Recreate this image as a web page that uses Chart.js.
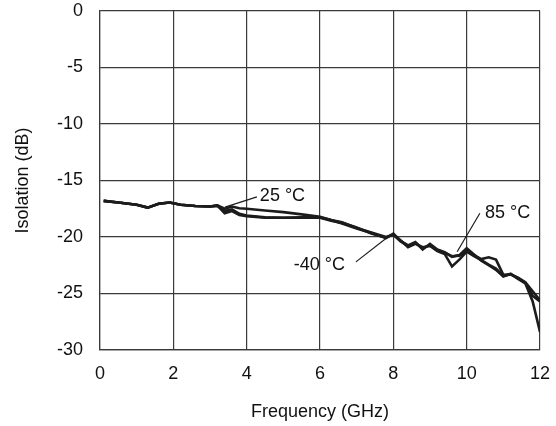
<!DOCTYPE html>
<html>
<head>
<meta charset="utf-8">
<script src="https://cdn.jsdelivr.net/npm/chart.js@4.4.1/dist/chart.umd.min.js"></script>
<style>
    html, body { margin: 0; padding: 0; background: #ffffff; }
    #wrap { width: 556px; height: 426px; }
</style>
</head>
<body>
<div id="wrap"><canvas id="isoChart" width="556" height="426"></canvas></div>
<script>

// ======================================
// Data
// ======================================

const freqGHz = [
    0.1, 0.5, 1.0, 1.3, 1.6, 1.9, 2.2, 2.6, 3.0, 3.2, 3.4, 3.6, 3.8,
    4.0, 4.5, 5.0, 5.5, 6.0, 6.3, 6.6, 7.0, 7.4, 7.8, 8.0, 8.2, 8.4,
    8.6, 8.8, 9.0, 9.2, 9.4, 9.6, 9.8, 10.0, 10.2, 10.4, 10.6, 10.8,
    11.0, 11.2, 11.4, 11.6, 11.8, 12.0
];

const iso25 = [
    -16.8, -16.95, -17.15, -17.4, -17.05, -16.95, -17.15, -17.25, -17.3, -17.2, -17.5, -17.3, -17.45,
    -17.5, -17.65, -17.8, -18.0, -18.2, -18.5, -18.7, -19.2, -19.6, -20.0, -19.8, -20.4, -20.8,
    -20.5, -21.0, -20.7, -21.2, -21.4, -21.7, -21.65, -21.25, -21.6, -21.95, -21.8, -22.0,
    -23.35, -23.3, -23.6, -24.0, -24.8, -25.6
];

const isoMinus40 = [
    -16.8, -16.95, -17.15, -17.4, -17.05, -16.95, -17.15, -17.25, -17.3, -17.2, -17.9, -17.7, -18.05,
    -18.15, -18.3, -18.3, -18.3, -18.3, -18.55, -18.75, -19.15, -19.7, -20.05, -19.75, -20.3, -20.9,
    -20.6, -20.9, -20.8, -21.25, -21.5, -22.6, -22.0, -21.3, -21.7, -22.05, -22.45, -22.8,
    -23.45, -23.3, -23.65, -24.05, -25.2, -25.7
];

const iso85 = [
    -16.8, -16.95, -17.15, -17.4, -17.05, -16.95, -17.15, -17.25, -17.3, -17.25, -17.7, -17.55, -17.95,
    -18.1, -18.25, -18.3, -18.25, -18.25, -18.5, -18.8, -19.25, -19.65, -20.1, -19.7, -20.35, -20.75,
    -20.45, -21.1, -20.6, -21.1, -21.35, -21.75, -21.6, -21.0, -21.55, -22.1, -22.5, -22.9,
    -23.5, -23.25, -23.7, -24.1, -25.7, -28.4
];

const xTicks = [0, 2, 4, 6, 8, 10, 12];
const yTicks = [0, -5, -10, -15, -20, -25, -30];

// label text, label anchor, leader start, leader end (data units)
const callouts = [
    { text: "25 °C", align: "left", at: [4.36, -16.35], from: [4.28, -16.45], to: [3.41, -17.35] },
    { text: "-40 °C", align: "right", at: [6.68, -22.5], from: [6.98, -22.2], to: [7.85, -20.0] },
    { text: "85 °C", align: "left", at: [10.5, -17.9], from: [10.36, -17.9], to: [9.74, -21.3] }
];

// ======================================
// Style
// ======================================

const ink = "#1c1c1c";
const gridInk = "#3a3a3a";
const fontFamily = "'Liberation Sans', Arial, sans-serif";

function toPoints(values) {
    return values.map((v, i) => ({ x: freqGHz[i], y: v }));
}

function series(label, values) {
    return {
        label: label,
        data: toPoints(values),
        borderColor: ink,
        borderWidth: 2.6,
        pointRadius: 0,
        tension: 0,
        fill: false
    };
}

// ======================================
// Callout plugin
// ======================================

const calloutPlugin = {
    id: "callouts",
    afterDatasetsDraw(chart) {
        const { ctx, scales: { x, y } } = chart;
        ctx.save();
        ctx.strokeStyle = ink;
        ctx.lineWidth = 1.2;
        ctx.fillStyle = "#111";
        ctx.font = "18px " + fontFamily;
        ctx.textBaseline = "middle";
        callouts.forEach(c => {
            ctx.beginPath();
            ctx.moveTo(x.getPixelForValue(c.from[0]), y.getPixelForValue(c.from[1]));
            ctx.lineTo(x.getPixelForValue(c.to[0]), y.getPixelForValue(c.to[1]));
            ctx.stroke();
            ctx.textAlign = c.align;
            ctx.fillText(c.text, x.getPixelForValue(c.at[0]), y.getPixelForValue(c.at[1]));
        });
        ctx.restore();
    }
};

// ======================================
// Chart
// ======================================

new Chart(document.getElementById("isoChart"), {

    type: "line",

    data: {
        datasets: [
            series("25 °C", iso25),
            series("-40 °C", isoMinus40),
            series("85 °C", iso85)
        ]
    },

    options: {
        responsive: false,
        animation: false,
        devicePixelRatio: 1,
        layout: {
            padding: { left: 0, right: 16, top: 11, bottom: 0 }
        },
        plugins: {
            legend: { display: false },
            tooltip: { enabled: false }
        },
        scales: {
            x: {
                type: "linear",
                min: 0,
                max: 12,
                afterBuildTicks: (scale) => {
                    scale.ticks = xTicks.map(v => ({ value: v }));
                },
                afterFit: (scale) => {
                    scale.height = 76;
                },
                ticks: {
                    color: "#111",
                    font: { family: fontFamily, size: 18 },
                    padding: 0,
                    maxRotation: 0
                },
                grid: {
                    color: gridInk,
                    lineWidth: 1.2,
                    drawTicks: true,
                    tickLength: 13,
                    tickColor: "rgba(0,0,0,0)"
                },
                border: { display: true, color: gridInk, width: 1.2 },
                title: {
                    display: true,
                    text: "Frequency (GHz)",
                    color: "#111",
                    font: { family: fontFamily, size: 18 },
                    padding: { top: 0, bottom: 3 }
                }
            },
            y: {
                type: "linear",
                min: -30,
                max: 0,
                afterBuildTicks: (scale) => {
                    scale.ticks = yTicks.map(v => ({ value: v }));
                },
                afterFit: (scale) => {
                    scale.width = 100;
                },
                ticks: {
                    color: "#111",
                    font: { family: fontFamily, size: 18 },
                    padding: 0
                },
                grid: {
                    color: gridInk,
                    lineWidth: 1.2,
                    drawTicks: true,
                    tickLength: 17,
                    tickColor: "rgba(0,0,0,0)"
                },
                border: { display: true, color: gridInk, width: 1.2 },
                title: {
                    display: true,
                    text: "Isolation (dB)",
                    color: "#111",
                    font: { family: fontFamily, size: 18 },
                    padding: { top: 12, bottom: 0 }
                }
            }
        }
    },

    plugins: [calloutPlugin]

});

</script>
</body>
</html>
